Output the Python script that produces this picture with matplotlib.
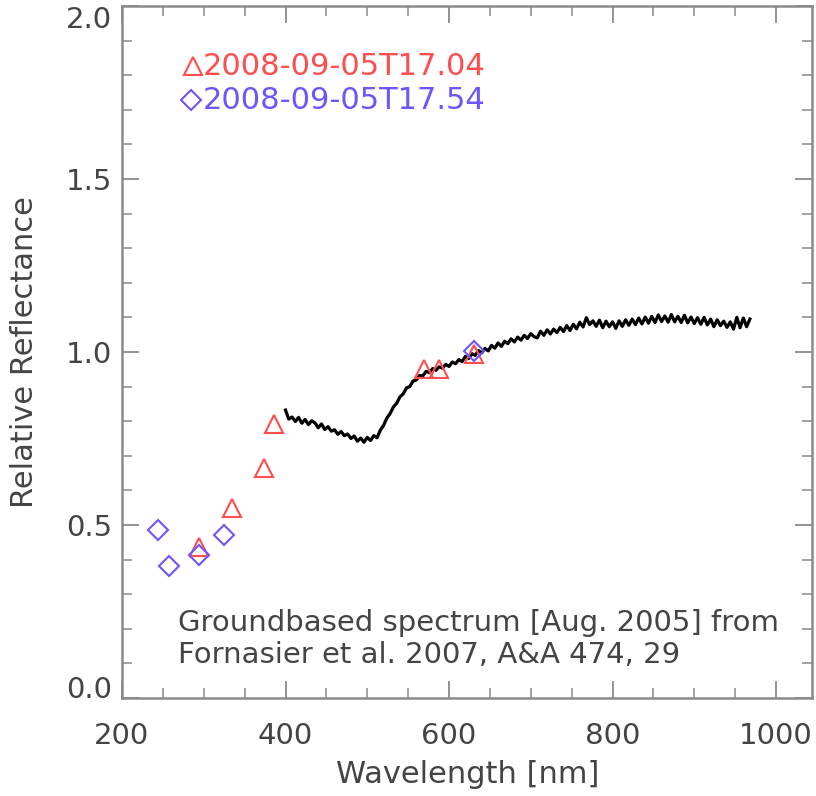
import matplotlib
matplotlib.use('Agg')
import matplotlib.pyplot as plt
from matplotlib.ticker import MultipleLocator

# ground-based spectrum, sampled every 4 nm
wl = [400, 404, 408, 412, 416, 420, 424, 428, 432, 436, 440, 444, 448, 452, 456,
      460, 464, 468, 472, 476, 480, 484, 488, 492, 496, 500, 504, 508, 512, 516,
      520, 524, 528, 532, 536, 540, 544, 548, 552, 556, 560, 564, 568, 572, 576,
      580, 584, 588, 592, 596, 600, 604, 608, 612, 616, 620, 624, 628, 632, 636,
      640, 644, 648, 652, 656, 660, 664, 668, 672, 676, 680, 684, 688, 692, 696,
      700, 704, 708, 712, 716, 720, 724, 728, 732, 736, 740, 744, 748, 752, 756,
      760, 764, 768, 772, 776, 780, 784, 788, 792, 796, 800, 804, 808, 812, 816,
      820, 824, 828, 832, 836, 840, 844, 848, 852, 856, 860, 864, 868, 872, 876,
      880, 884, 888, 892, 896, 900, 904, 908, 912, 916, 920, 924, 928, 932, 936,
      940, 944, 948, 952, 956, 960, 964, 968]
refl = [0.832, 0.806, 0.812, 0.799, 0.811, 0.794, 0.805, 0.790, 0.801, 0.795,
        0.781, 0.792, 0.776, 0.784, 0.771, 0.775, 0.762, 0.770, 0.758, 0.763,
        0.750, 0.757, 0.742, 0.751, 0.739, 0.753, 0.744, 0.758, 0.752, 0.774,
        0.788, 0.809, 0.822, 0.841, 0.852, 0.870, 0.879, 0.896, 0.900, 0.916,
        0.919, 0.932, 0.931, 0.944, 0.940, 0.952, 0.947, 0.957, 0.953, 0.964,
        0.958, 0.971, 0.966, 0.978, 0.972, 0.987, 0.981, 0.995, 0.990, 1.004,
        0.997, 1.010, 1.003, 1.019, 1.011, 1.026, 1.016, 1.031, 1.024, 1.038,
        1.029, 1.043, 1.034, 1.048, 1.039, 1.053, 1.044, 1.041, 1.060, 1.048,
        1.064, 1.052, 1.066, 1.056, 1.071, 1.059, 1.076, 1.062, 1.080, 1.067,
        1.086, 1.072, 1.099, 1.079, 1.090, 1.074, 1.092, 1.070, 1.089, 1.073,
        1.087, 1.068, 1.090, 1.074, 1.093, 1.077, 1.095, 1.079, 1.098, 1.081,
        1.101, 1.083, 1.103, 1.085, 1.107, 1.088, 1.104, 1.086, 1.108, 1.087,
        1.103, 1.085, 1.106, 1.084, 1.101, 1.082, 1.099, 1.080, 1.100, 1.078,
        1.095, 1.073, 1.093, 1.076, 1.089, 1.071, 1.087, 1.066, 1.100, 1.070,
        1.098, 1.073, 1.095]

# OSIRIS photometry, 17:04 (triangles) and 17:54 (diamonds)
wl_1704 = [294, 335, 374, 386, 570, 588, 630]
refl_1704 = [0.435, 0.549, 0.665, 0.792, 0.951, 0.951, 0.995]
wl_1754 = [244, 258, 294, 325, 630]
refl_1754 = [0.485, 0.380, 0.414, 0.472, 1.002]

labels = ['2008-09-05T17.04', '2008-09-05T17.54']
note = 'Groundbased spectrum [Aug. 2005] from\nFornasier et al. 2007, A&A 474, 29'

red = '#ff4d4d'
blue = '#6a55ff'
txt = '#444444'
frame = '#8a8a8a'

fig = plt.figure(figsize=(8.16, 7.96), dpi=100)
ax = fig.add_axes([0.1495, 0.1232, 0.8456, 0.8693])

ax.plot(wl, refl, color='black', lw=2.3)
ax.plot(wl_1704, refl_1704, ls='none', marker='^', ms=13, mfc='none', mec=red, mew=1.5)
ax.plot(wl_1754, refl_1754, ls='none', marker='D', ms=10, mfc='none', mec=blue, mew=1.5)

ax.set_xlim(200, 1044)
ax.set_ylim(0.0, 2.0)
ax.xaxis.set_major_locator(MultipleLocator(200))
ax.xaxis.set_minor_locator(MultipleLocator(50))
ax.yaxis.set_major_locator(MultipleLocator(0.5))
ax.yaxis.set_minor_locator(MultipleLocator(0.1))
ax.yaxis.set_major_formatter(plt.FormatStrFormatter('%.1f'))
ax.tick_params(which='both', direction='in', top=True, right=True, color=frame,
               labelsize=21, labelcolor=txt)
ax.tick_params(axis='x', pad=17)
ax.tick_params(axis='y', pad=7)
ax.tick_params(which='major', length=12, width=1.3)
ax.tick_params(which='minor', length=7, width=1.1)
for s in ax.spines.values():
    s.set_color(frame)
    s.set_linewidth(1.8)

ax.set_xlabel('Wavelength [nm]', fontsize=22, color=txt, va='center', ha='center')
ax.set_ylabel('Relative Reflectance', fontsize=22, color=txt, va='center', ha='center')
ax.xaxis.set_label_coords(0.501, -0.110)
ax.yaxis.set_label_coords(-0.141, 0.5)

# legend drawn by hand in the upper left
ax.plot([0.103], [0.913], transform=ax.transAxes, marker='^', ms=13, mfc='none',
        mec=red, mew=1.5, clip_on=False)
ax.text(0.117, 0.913, labels[0], transform=ax.transAxes, color=red, fontsize=22,
        va='center', ha='left')
ax.plot([0.100], [0.864], transform=ax.transAxes, marker='D', ms=10, mfc='none',
        mec=blue, mew=1.5, clip_on=False)
ax.text(0.117, 0.864, labels[1], transform=ax.transAxes, color=blue, fontsize=22,
        va='center', ha='left')

ax.text(0.081, 0.085, note, transform=ax.transAxes, color=txt, fontsize=21,
        va='center', ha='left', linespacing=1.2)

# keep the end labels of the y axis inside the frame height
fig.canvas.draw()
for t in ax.yaxis.get_major_ticks():
    if t.get_loc() >= 1.99:
        t.label1.set_va('top')
    elif t.get_loc() <= 0.01:
        t.label1.set_va('baseline')

fig.savefig('out.png', dpi=100)
